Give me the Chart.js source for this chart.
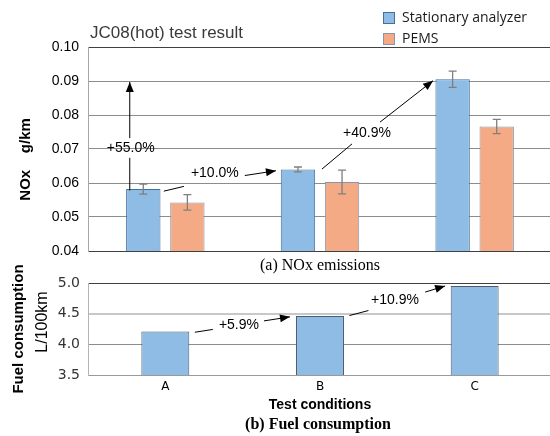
<!DOCTYPE html>
<html>
<head>
<meta charset="utf-8">
<script src="https://cdn.jsdelivr.net/npm/chart.js@4.4.0/dist/chart.umd.min.js"></script>
<style>
  html, body { margin: 0; padding: 0; background: #fff; overflow: hidden; }
  #wrap { position: relative; width: 550px; height: 436px; overflow: hidden; }
  canvas { position: absolute; left: 0; }
  #nox { top: 0; }
  #fuel { top: 255px; }
</style>
</head>
<body>
<div id="wrap">
  <canvas id="nox" width="552" height="275"></canvas>
  <canvas id="fuel" width="552" height="181"></canvas>
</div>
<script>
const categories = ['A', 'B', 'C'];
const noxStationary = [0.0582, 0.0640, 0.0905];
const noxStationaryErr = [0.0015, 0.0007, 0.0024];
const noxPems = [0.0543, 0.0603, 0.0766];
const noxPemsErr = [0.0023, 0.0035, 0.0021];
const fuelUse = [4.21, 4.46, 4.95];
const noxGains = ['+55.0%', '+10.0%', '+40.9%'];
const fuelGains = ['+5.9%', '+10.9%'];

// arrow geometry in axis units [categoryIndex, value]:
// start, end of first stroke, start of second stroke, tip, label centre
const noxArrows = [
  [[-0.23, 0.0578], [-0.23, 0.0674], [-0.23, 0.0732], [-0.23, 0.0897], [-0.224, 0.0703]],
  [[-0.01, 0.0576], [0.12, 0.0590], [0.514, 0.0622], [0.715, 0.0636], [0.32, 0.0630]],
  [[1.013, 0.0641], [1.207, 0.0715], [1.388, 0.0779], [1.731, 0.0901], [1.304, 0.0747]]
];
const fuelArrows = [
  [[0.191, 4.197], [0.307, 4.243], [0.638, 4.382], [0.806, 4.448], [0.476, 4.308]],
  [[1.190, 4.469], [1.313, 4.551], [1.680, 4.852], [1.809, 4.951], [1.485, 4.715]]
];

const BLUE = '#8fbce4';
const ORANGE = '#f4aa84';

Chart.defaults.font.family = "'Liberation Sans', Arial, sans-serif";
Chart.defaults.animation = false;

function drawArrows(chart, arrows, labels) {
  const ctx = chart.ctx;
  const xs = chart.scales.x, ys = chart.scales.y;
  const px = p => [xs.getPixelForValue(p[0]), ys.getPixelForValue(p[1])];
  ctx.save();
  ctx.strokeStyle = '#000';
  ctx.fillStyle = '#000';
  ctx.lineWidth = 1;
  arrows.forEach((a, i) => {
    const [s, b, r, t, l] = a.map(px);
    ctx.beginPath();
    ctx.moveTo(s[0], s[1]);
    ctx.lineTo(b[0], b[1]);
    ctx.moveTo(r[0], r[1]);
    ctx.lineTo(t[0], t[1]);
    ctx.stroke();
    const ang = Math.atan2(t[1] - r[1], t[0] - r[0]);
    ctx.beginPath();
    ctx.moveTo(t[0], t[1]);
    ctx.lineTo(t[0] - 10 * Math.cos(ang) + 4 * Math.sin(ang), t[1] - 10 * Math.sin(ang) - 4 * Math.cos(ang));
    ctx.lineTo(t[0] - 10 * Math.cos(ang) - 4 * Math.sin(ang), t[1] - 10 * Math.sin(ang) + 4 * Math.cos(ang));
    ctx.closePath();
    ctx.fill();
    ctx.font = "14px 'Liberation Sans', Arial, sans-serif";
    ctx.textAlign = 'center';
    ctx.textBaseline = 'middle';
    ctx.fillText(labels[i], l[0], l[1]);
  });
  ctx.restore();
}

const errorBars = {
  id: 'errorBars',
  afterDatasetsDraw(chart) {
    const ctx = chart.ctx, ys = chart.scales.y;
    ctx.save();
    ctx.strokeStyle = '#7f7f7f';
    ctx.lineWidth = 1.3;
    chart.data.datasets.forEach((ds, di) => {
      if (!ds.errors) return;
      chart.getDatasetMeta(di).data.forEach((bar, i) => {
        const hi = ys.getPixelForValue(ds.data[i] + ds.errors[i]);
        const lo = ys.getPixelForValue(ds.data[i] - ds.errors[i]);
        ctx.beginPath();
        ctx.moveTo(bar.x, hi); ctx.lineTo(bar.x, lo);
        ctx.moveTo(bar.x - 4, hi); ctx.lineTo(bar.x + 4, hi);
        ctx.moveTo(bar.x - 4, lo); ctx.lineTo(bar.x + 4, lo);
        ctx.stroke();
      });
    });
    ctx.restore();
  }
};

const noxDecor = {
  id: 'noxDecor',
  afterDraw(chart) {
    const ctx = chart.ctx;
    ctx.save();
    ctx.fillStyle = '#3a3a3a';
    ctx.font = "17px 'Liberation Sans', Arial, sans-serif";
    ctx.textBaseline = 'middle';
    ctx.fillText('JC08(hot) test result', 90, 33);
    chart.data.datasets.forEach((ds, i) => {
      const y = 12 + i * 21;
      ctx.fillStyle = ds.backgroundColor;
      ctx.fillRect(383, y, 12, 12);
      ctx.strokeStyle = ds.borderColor;
      ctx.lineWidth = 1;
      ctx.strokeRect(383.5, y + 0.5, 11, 11);
      ctx.fillStyle = '#1a1a1a';
      ctx.font = "14px 'Open Sans', sans-serif";
      ctx.fillText(ds.label, 402, y + 6);
    });
    ctx.restore();
    drawArrows(chart, noxArrows, noxGains);
  }
};

const fuelDecor = {
  id: 'fuelDecor',
  afterDraw(chart) {
    const ctx = chart.ctx;
    ctx.save();
    ctx.fillStyle = '#000';
    ctx.textAlign = 'center';
    ctx.textBaseline = 'middle';
    ctx.font = "bold 16px 'Liberation Serif', 'Times New Roman', serif";
    ctx.fillText('(b) Fuel consumption', 318, 170);
    ctx.translate(43, 67);
    ctx.rotate(-Math.PI / 2);
    ctx.font = "16px 'Liberation Sans', Arial, sans-serif";
    ctx.fillText('L/100km', 0, 0);
    ctx.restore();
    drawArrows(chart, fuelArrows, fuelGains);
  }
};

new Chart(document.getElementById('nox'), {
  type: 'bar',
  data: {
    labels: categories,
    datasets: [
      { label: 'Stationary analyzer', data: noxStationary, errors: noxStationaryErr,
        backgroundColor: BLUE, borderColor: '#41719c', borderWidth: 1 },
      { label: 'PEMS', data: noxPems, errors: noxPemsErr,
        backgroundColor: ORANGE, borderColor: '#8895aa', borderWidth: 1 }
    ]
  },
  options: {
    responsive: false,
    devicePixelRatio: 1,
    categoryPercentage: 0.57,
    barPercentage: 0.78,
    layout: { padding: { top: 47, left: 0, right: 0, bottom: 0 } },
    plugins: { legend: { display: false }, tooltip: { enabled: false } },
    scales: {
      x: {
        ticks: { display: false },
        grid: { display: false },
        border: { color: '#404040' },
        title: { display: true, text: '(a) NOx emissions', color: '#000',
          font: { family: "'Liberation Serif', 'Times New Roman', serif", size: 16 },
          padding: { top: 0, bottom: 0 } },
        afterFit(s) { s.height = 24; }
      },
      y: {
        min: 0.04, max: 0.1,
        ticks: { stepSize: 0.01, padding: 9, color: '#000', font: { size: 14 },
          callback: v => v.toFixed(2) },
        grid: { drawTicks: false,
          color: c => c.tick && c.tick.value > 0.099 ? '#404040' : '#8c8c8c' },
        border: { color: '#a6a6a6' },
        title: { display: true, text: 'NOx    g/km     ', color: '#000',
          font: { size: 15, weight: 'bold' }, padding: { top: 17, bottom: 0 } },
        afterFit(s) { s.width = 88; }
      }
    }
  },
  plugins: [errorBars, noxDecor]
});

new Chart(document.getElementById('fuel'), {
  type: 'bar',
  data: {
    labels: categories,
    datasets: [
      { label: 'Fuel consumption', data: fuelUse,
        backgroundColor: BLUE, borderColor: '#4d5b6b', borderWidth: 1 }
    ]
  },
  options: {
    responsive: false,
    devicePixelRatio: 1,
    categoryPercentage: 1,
    barPercentage: 0.31,
    layout: { padding: { top: 28, left: 0, right: 0, bottom: 0 } },
    plugins: { legend: { display: false }, tooltip: { enabled: false } },
    scales: {
      x: {
        ticks: { padding: 5, color: '#000', font: { family: "'DejaVu Sans', sans-serif", size: 12 } },
        grid: { display: false, drawTicks: false },
        border: { color: '#9a9a9a' },
        title: { display: true, text: 'Test conditions', color: '#000',
          font: { size: 14, weight: 'bold' }, padding: { top: 0, bottom: 22 } },
        afterFit(s) { s.height = 61; }
      },
      y: {
        min: 3.5, max: 5.0,
        ticks: { stepSize: 0.5, padding: 8, color: '#333',
          font: { family: "'DejaVu Sans', sans-serif", size: 14 },
          callback: v => v.toFixed(1) },
        grid: { drawTicks: false,
          color: c => !c.tick ? '#8c8c8c' : c.tick.value > 4.99 ? '#404040' : Math.abs(c.tick.value - 4.5) < 0.01 ? '#c8c8c8' : '#8c8c8c',
          lineWidth: c => c.tick && Math.abs(c.tick.value - 4.5) < 0.01 ? 2 : 1 },
        border: { color: '#b4b4b4' },
        title: { display: true, text: 'Fuel consumption', color: '#000',
          font: { size: 15, weight: 'bold' }, padding: { top: 10, bottom: 0 } },
        afterFit(s) { s.width = 88; }
      }
    }
  },
  plugins: [fuelDecor]
});
</script>
</body>
</html>
